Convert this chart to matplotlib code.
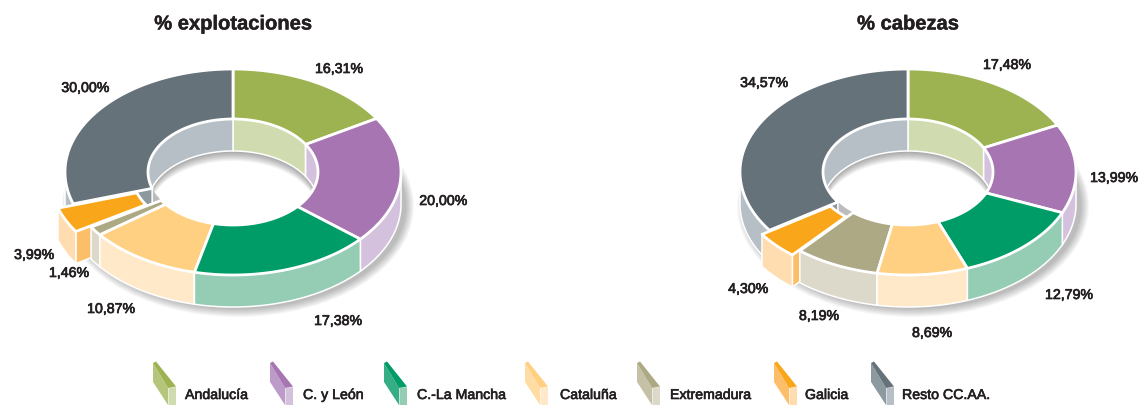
"""Two exploded 3D-look donuts (% explotaciones / % cabezas) drawn with plain polygons."""
import matplotlib
matplotlib.use("Agg")
import matplotlib.pyplot as plt
import matplotlib.patheffects as pe
from matplotlib.patches import Ellipse, Polygon
import numpy as np

plt.rcParams["font.family"] = ["Liberation Sans", "DejaVu Sans"]

regions = ["Andalucía", "C. y León", "C.-La Mancha", "Cataluña", "Extremadura", "Galicia", "Resto CC.AA."]
explotaciones = [16.31, 20.00, 17.38, 10.87, 1.46, 3.99, 30.00]
cabezas = [17.48, 13.99, 12.79, 8.69, 8.19, 4.30, 34.57]

top_colors = ["#9DB351", "#A776B2", "#009C68", "#FFD082", "#ADA985", "#FAA61A", "#65727A"]
wall_colors = ["#D0DBB0", "#D4C1DD", "#95CCB4", "#FFE9C8", "#DCD8CA", "#FFDDB0", "#B7BFC6"]
cut_colors = ["#B5C67C", "#BD9BC8", "#35AE85", "#FFDCA4", "#C4C1A6", "#FDBE6A", "#8C9AA0"]

# label centres in pixels
labels_expl = [(339, 69), (443, 201), (338, 321), (111, 309), (69, 273), (34, 255), (85, 88)]
labels_cab = [(1007, 65), (1114, 178), (1069, 295), (932, 333), (819, 316), (748, 289), (764, 83)]
legend_icon_x = [153, 270, 384, 525, 637, 774, 871]
legend_text_x = [185, 303, 417, 560, 670, 805, 902]

CY = 172
RX, RY = 168, 103
IRX, IRY = 85, 53
DEPTH = 32
TXT = "#231F20"


def arc(cx, cy, rx, ry, a0, a1, n=80):
    th = np.radians(np.linspace(a0, a1, n))
    return np.column_stack([cx + rx * np.sin(th), cy - ry * np.cos(th)])


def poly(ax, pts, color, z, lw=1.1):
    ax.add_patch(Polygon(pts, closed=True, facecolor=color, edgecolor="white", lw=lw,
                         joinstyle="round", zorder=z))


def wall(ax, cx, cy, rx, ry, a0, a1, color, z):
    # skip when the visible range is empty
    if a1 - a0 <= 0:
        return
    p = arc(cx, cy, rx, ry, a0, a1)
    q = p[::-1] + [0, DEPTH]
    poly(ax, np.vstack([p, q]), color, z)


def shadows(ax, cx):
    for i in range(9):
        ax.add_patch(Ellipse((cx + 5, CY + DEPTH + 2), 2 * (RX + i), 2 * (RY + i),
                             facecolor="#000000", edgecolor="none", alpha=0.03, zorder=1))
    hole = Ellipse((cx, CY), 2 * IRX, 2 * IRY, facecolor="white", edgecolor="none", zorder=2)
    ax.add_patch(hole)
    # soft shadow on the floor under the back inner wall
    for i in range(1, 11):
        edge = arc(cx, CY + DEPTH + i, IRX, IRY, -90, 90)
        p = Polygon(np.vstack([edge, [[cx + IRX, 0], [cx - IRX, 0]]]), closed=True,
                    facecolor="#000000", edgecolor="none", alpha=0.04, zorder=3)
        ax.add_patch(p)
        p.set_clip_path(hole)


def donut(ax, cx, values, title, label_pos, explode):
    ax.text(cx, 24, title, ha="center", va="center", fontsize=14.5, fontweight="bold", color=TXT,
            path_effects=[pe.withStroke(linewidth=0.3, foreground=TXT)])
    shadows(ax, cx)
    edges = np.cumsum([0] + values) / sum(values) * 360
    mids = (edges[:-1] + edges[1:]) / 2
    order = np.argsort(np.cos(np.radians(mids)))[::-1]  # back to front
    z = 10
    for k in order:
        a0, a1 = edges[k], edges[k + 1]
        e = explode.get(k, 0)
        m = np.radians(mids[k])
        x0 = cx + RX * e * np.sin(m)
        y0 = CY - RY * e * np.cos(m)
        # inner wall shows on the back half, outer wall on the front half
        wall(ax, x0, y0, IRX, IRY, a0, min(a1, 90), wall_colors[k], z)
        wall(ax, x0, y0, IRX, IRY, max(a0, 270), a1, wall_colors[k], z)
        # cut faces only show where the slice is pulled out or at a gap
        cut_a = a0 if a0 > 180 else a1
        o = arc(x0, y0, RX, RY, cut_a, cut_a, 1)
        i = arc(x0, y0, IRX, IRY, cut_a, cut_a, 1)
        poly(ax, np.vstack([o, i, i + [0, DEPTH], o + [0, DEPTH]]), cut_colors[k], z + 1)
        wall(ax, x0, y0, RX, RY, max(a0, 90), min(a1, 270), wall_colors[k], z + 2)
        outer = arc(x0, y0, RX, RY, a0, a1)
        inner = arc(x0, y0, IRX, IRY, a1, a0)
        poly(ax, np.vstack([outer, inner]), top_colors[k], z + 3, lw=2.0)
        z += 4
    for v, (x, y) in zip(values, label_pos):
        ax.text(x, y, f"{v:.2f}%".replace(".", ","), ha="center", va="center", fontsize=10.2,
                color=TXT, zorder=100,
                path_effects=[pe.withStroke(linewidth=0.5, foreground=TXT)])


fig = plt.figure(figsize=(11.39, 4.05), dpi=100)
ax = fig.add_axes([0, 0, 1, 1])
ax.set_xlim(0, 1139)
ax.set_ylim(405, 0)
ax.axis("off")

donut(ax, 233, explotaciones, "% explotaciones", labels_expl, {5: 0.1})
donut(ax, 908, cabezas, "% cabezas", labels_cab, {5: 0.06})

# legend: small extruded bars
for k, name in enumerate(regions):
    x = legend_icon_x[k]
    ax.add_patch(Polygon([(x, 363), (x + 15, 388), (x + 15, 405), (x, 382)], facecolor=cut_colors[k],
                         edgecolor="none", zorder=5))
    ax.add_patch(Polygon([(x + 15.5, 388), (x + 23, 387), (x + 23, 405), (x + 15.5, 405)],
                         facecolor=wall_colors[k], edgecolor="none", zorder=5))
    ax.add_patch(Polygon([(x, 363), (x + 3, 361.5), (x + 23, 386.5), (x + 15, 388)],
                         facecolor=top_colors[k], edgecolor="none", zorder=6))
    ax.text(legend_text_x[k], 395, name, ha="left", va="center", fontsize=10.2, color=TXT,
            path_effects=[pe.withStroke(linewidth=0.45, foreground=TXT)])

fig.savefig("out.png", dpi=100)
